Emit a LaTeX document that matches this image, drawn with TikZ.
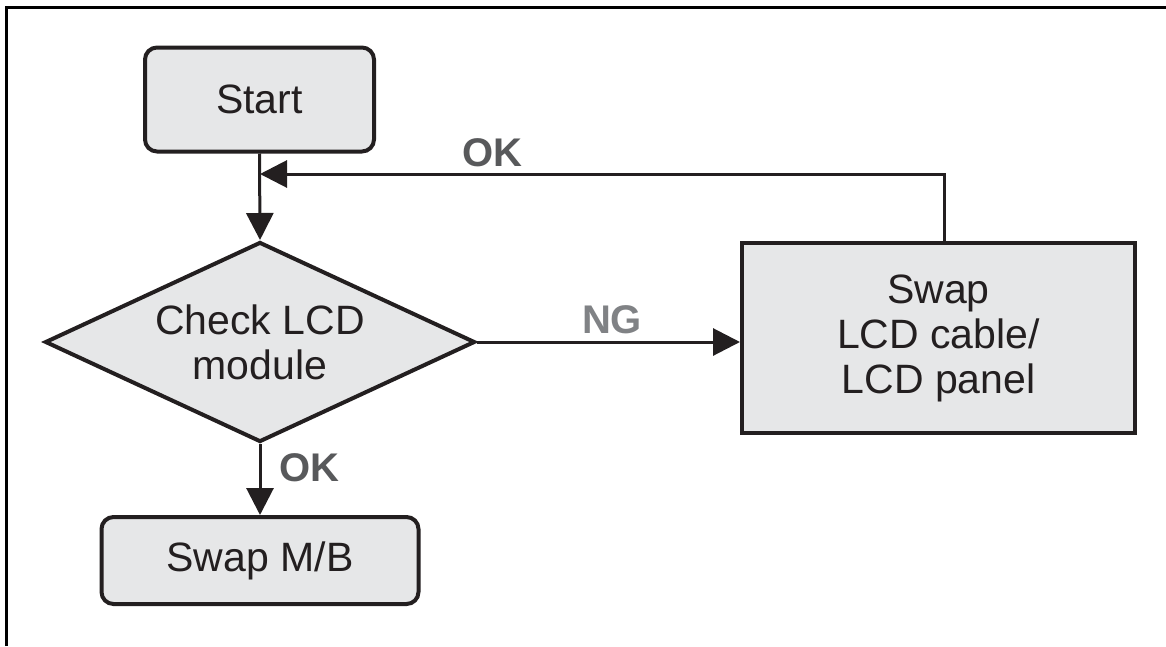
\documentclass[tikz,border=0pt]{standalone}
\usepackage{fontspec}
\setmainfont{Liberation Sans}
\usetikzlibrary{shapes.geometric,arrows.meta}
\definecolor{boxfill}{HTML}{E6E7E8}
\definecolor{ink}{HTML}{231F20}
\definecolor{okgray}{HTML}{58595B}
\definecolor{nggray}{HTML}{808285}
\begin{document}
\begin{tikzpicture}[x=1pt,y=-1pt,
  every node/.style={font=\fontsize{41}{45}\selectfont, text=ink},
  box/.style={draw=ink, line width=4pt, fill=boxfill, inner sep=0pt, align=center},
  rbox/.style={box, rounded corners=12pt},
  conn/.style={draw=ink, line width=3pt, -{Triangle[length=27pt,width=27pt]}},
  lbl/.style={font=\fontsize{40}{43}\selectfont\bfseries, inner sep=0pt}
]
\useasboundingbox (0,0) rectangle (1166,646);
% frame (top and left edges)
\draw[line width=3pt, black] (6.5,646) -- (6.5,7) -- (1166,7);

\node[rbox, minimum width=229pt, minimum height=104pt] (start) at (259.5,99.5) {Start};
\node[box, shape=diamond, aspect=2.15, minimum width=430pt, minimum height=200pt] (check) at (260,342) {Check LCD\\module};
\node[box, minimum width=393pt, minimum height=190pt] (swaplcd) at (938.5,338) {Swap\\LCD cable/\\LCD panel};
\node[rbox, minimum width=317pt, minimum height=87pt] (swapmb) at (260,560.5) {Swap M/B};

\coordinate (join) at (260,174);
\draw[conn] (start.south) -- (check.north);
\draw[conn] (check.east) -- (check.east -| swaplcd.west);
\draw[conn] (check.south) -- (swapmb.north);
\draw[conn] (swaplcd.north -| 944,0) |- (join);

\node[lbl, text=okgray] (ok1) at (492,153) {OK};
\node[lbl, text=nggray] (ng) at (612,320) {NG};
\node[lbl, text=okgray] (ok2) at (309,468) {OK};
\end{tikzpicture}
\end{document}
